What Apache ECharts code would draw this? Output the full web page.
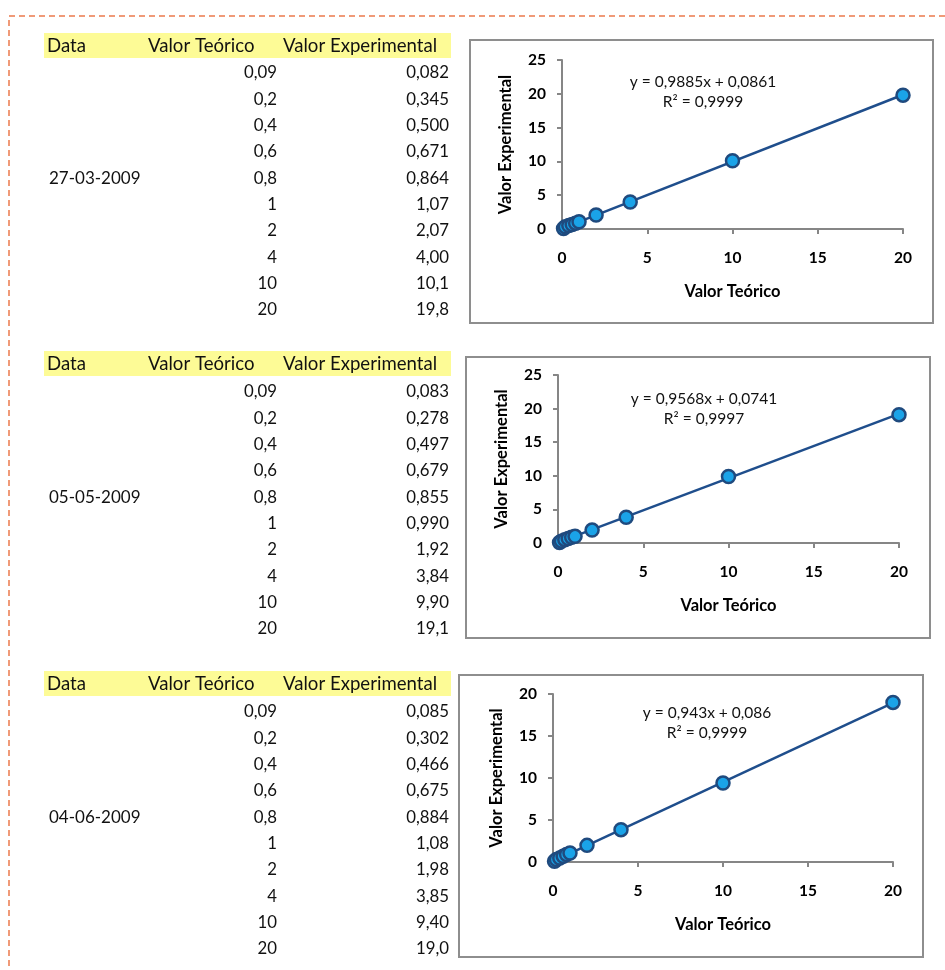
<!DOCTYPE html>
<html>
<head>
<meta charset="utf-8">
<script src="https://cdn.jsdelivr.net/npm/echarts@6/dist/echarts.min.js"></script>
<style>
  html, body { margin: 0; padding: 0; background: #fff; }
  #main { width: 945px; height: 970px; }
</style>
</head>
<body>
<div id="main"></div>
<script>
// Calibration runs: theoretical concentrations and measured values per date
const dates = ['27-03-2009', '05-05-2009', '04-06-2009'];
const theoretical = ['0,09', '0,2', '0,4', '0,6', '0,8', '1', '2', '4', '10', '20'];
const experimental1 = ['0,082', '0,345', '0,500', '0,671', '0,864', '1,07', '2,07', '4,00', '10,1', '19,8'];
const experimental2 = ['0,083', '0,278', '0,497', '0,679', '0,855', '0,990', '1,92', '3,84', '9,90', '19,1'];
const experimental3 = ['0,085', '0,302', '0,466', '0,675', '0,884', '1,08', '1,98', '3,85', '9,40', '19,0'];
const headers = ['Data', 'Valor Teórico', 'Valor Experimental'];

// Linear trendline fits (slope, intercept, R²)
const slopes = [0.9885, 0.9568, 0.943];
const intercepts = [0.0861, 0.0741, 0.086];
const rSquared = [0.9999, 0.9997, 0.9999];

// Axis ranges
const xTicks = { min: 0, max: 20, interval: 5 };
const yMax = [25, 25, 20];

const experimental = [experimental1, experimental2, experimental3];
const num = s => parseFloat(s.replace(',', '.'));
const fmt = v => String(v).replace('.', ',');

const FONT = 'Lato, "Open Sans", sans-serif';

// Layout of the three blocks (table + chart frame + plot area)
const blocks = [
  { headTop: 33, rowTop: 73, frame: [470, 40, 463, 283], grid: { left: 562, top: 60, width: 341, height: 169 }, eq: [703, 82] },
  { headTop: 351, rowTop: 392, frame: [466, 357, 464, 281], grid: { left: 558, top: 375, width: 341, height: 168 }, eq: [704, 399] },
  { headTop: 671, rowTop: 712, frame: [459, 675, 464, 282], grid: { left: 553, top: 694, width: 340, height: 168 }, eq: [707, 713] }
];
const rowStep = 26.3;

const graphic = [];
// dashed page border (top and left)
graphic.push({
  type: 'polyline', silent: true,
  shape: { points: [[945, 16], [9, 16], [9, 970]] },
  style: { stroke: '#ec7a4c', lineWidth: 1.5, lineDash: [6, 4], fill: null }
});

blocks.forEach((b, k) => {
  // header band
  graphic.push({ type: 'rect', shape: { x: 44, y: b.headTop, width: 407, height: 25 }, style: { fill: '#fdfb96' }, silent: true });
  const headY = b.headTop + 13;
  [[47, 'left'], [148, 'left'], [283, 'left']].forEach((p, i) => {
    graphic.push({ type: 'text', x: p[0], y: headY, silent: true,
      style: { text: headers[i], font: '18.6px ' + FONT, fill: '#111', align: p[1], verticalAlign: 'middle' } });
  });
  theoretical.forEach((t, i) => {
    const y = b.rowTop + i * rowStep;
    graphic.push({ type: 'text', x: 277, y: y, silent: true,
      style: { text: t, font: '16.8px ' + FONT, fill: '#111', align: 'right', verticalAlign: 'middle' } });
    graphic.push({ type: 'text', x: 449, y: y, silent: true,
      style: { text: experimental[k][i], font: '16.8px ' + FONT, fill: '#111', align: 'right', verticalAlign: 'middle' } });
  });
  graphic.push({ type: 'text', x: 49, y: b.rowTop + 4 * rowStep, silent: true,
    style: { text: dates[k], font: '17px ' + FONT, fill: '#111', align: 'left', verticalAlign: 'middle' } });
  // chart frame
  graphic.push({ type: 'rect', silent: true, z: -1,
    shape: { x: b.frame[0], y: b.frame[1], width: b.frame[2], height: b.frame[3] },
    style: { fill: '#fff', stroke: '#8e8e8e', lineWidth: 2 } });
  // trendline equation
  graphic.push({ type: 'text', x: b.eq[0], y: b.eq[1], silent: true, z: 10,
    style: { text: 'y = ' + fmt(slopes[k]) + 'x + ' + fmt(intercepts[k]), font: '15.5px ' + FONT, fill: '#111', align: 'center', verticalAlign: 'middle' } });
  graphic.push({ type: 'text', x: b.eq[0], y: b.eq[1] + 20, silent: true, z: 10,
    style: { text: 'R² = ' + fmt(rSquared[k]), font: '15.5px ' + FONT, fill: '#111', align: 'center', verticalAlign: 'middle' } });
});

const axisLine = { show: true, onZero: false, lineStyle: { color: '#868686', width: 2 } };
const axisTick = { show: true, inside: false, length: 5, lineStyle: { color: '#868686', width: 2 } };
const labelStyle = { color: '#000', fontFamily: FONT, fontWeight: 'bold', fontSize: 15.5 };
const nameStyle = { color: '#000', fontFamily: FONT, fontWeight: 'bold', fontSize: 16.5 };

const grids = blocks.map(b => Object.assign({ containLabel: false }, b.grid));
const xAxes = blocks.map((b, k) => ({
  type: 'value', gridIndex: k, min: xTicks.min, max: xTicks.max, interval: xTicks.interval,
  name: 'Valor Teórico', nameLocation: 'middle', nameGap: 54, nameTextStyle: nameStyle,
  axisLine, axisTick, splitLine: { show: false },
  axisLabel: Object.assign({ margin: 21 }, labelStyle)
}));
const yAxes = blocks.map((b, k) => ({
  type: 'value', gridIndex: k, min: 0, max: yMax[k], interval: 5,
  name: 'Valor Experimental', nameLocation: 'middle', nameGap: 48, nameTextStyle: nameStyle,
  axisLine, axisTick, splitLine: { show: false },
  axisLabel: Object.assign({ margin: 16 }, labelStyle)
}));

const series = [];
blocks.forEach((b, k) => {
  const xs = theoretical.map(num);
  const x0 = Math.min(...xs), x1 = Math.max(...xs);
  series.push({
    type: 'line', xAxisIndex: k, yAxisIndex: k, symbol: 'none', silent: true, z: 2,
    lineStyle: { color: '#1f4e8c', width: 2.5 },
    data: [[x0, slopes[k] * x0 + intercepts[k]], [x1, slopes[k] * x1 + intercepts[k]]]
  });
  series.push({
    type: 'scatter', xAxisIndex: k, yAxisIndex: k, z: 3,
    symbol: 'circle', symbolSize: 13,
    itemStyle: { color: '#1aa3e8', borderColor: '#1f4a7e', borderWidth: 2.5, opacity: 1 },
    data: xs.map((x, i) => [x, num(experimental[k][i])])
  });
});

const chart = echarts.init(document.getElementById('main'), null, { renderer: 'canvas' });
chart.setOption({
  animation: false,
  backgroundColor: '#fff',
  graphic,
  grid: grids,
  xAxis: xAxes,
  yAxis: yAxes,
  series
});
</script>
</body>
</html>
